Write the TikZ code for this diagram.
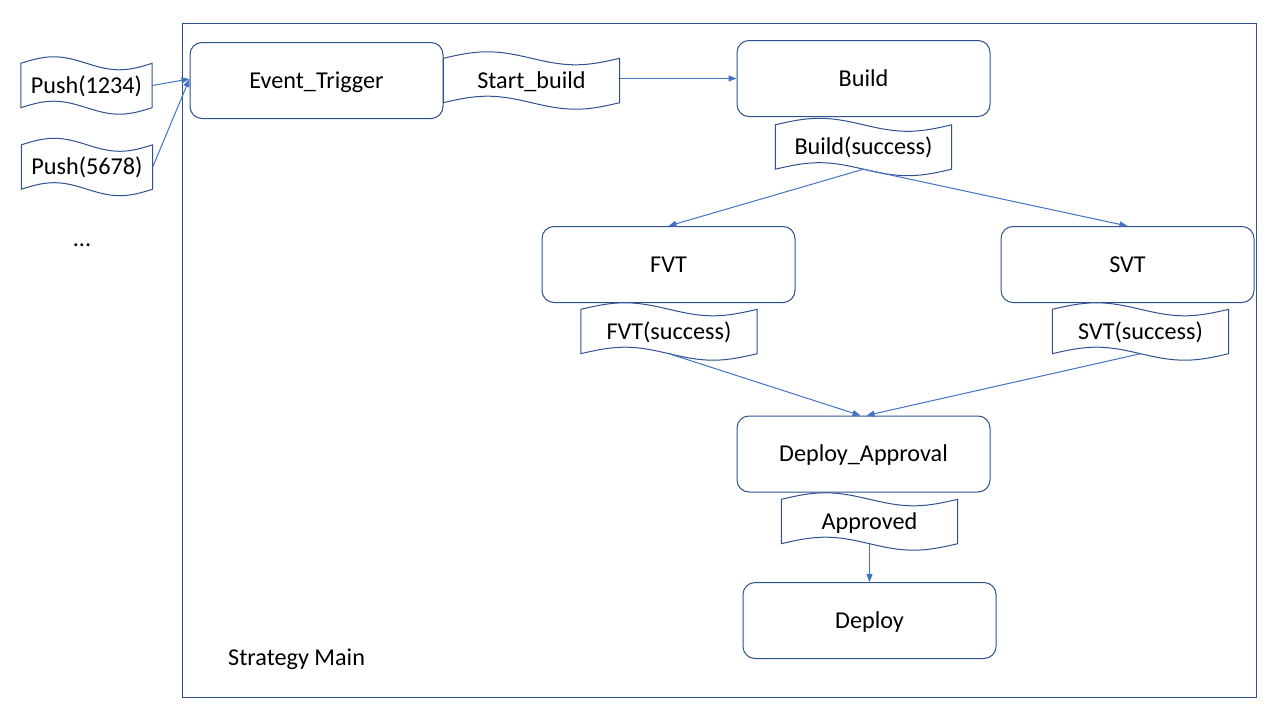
\documentclass[tikz,border=0pt]{standalone}
\usepackage{fontspec}
\setmainfont{Carlito}
\usetikzlibrary{arrows.meta,calc}
\definecolor{outline}{HTML}{2F528F}
\definecolor{link}{HTML}{4472C4}
\tikzset{
  words/.style={text height=18pt, text depth=2.4pt},
  proc/.style={draw=outline, line width=1pt, rounded corners=12pt,
    minimum width=253pt, minimum height=76pt, inner sep=0pt, words},
  tapebox/.style={inner sep=0pt, minimum width=176pt, minimum height=44pt},
  pushbox/.style={tapebox, minimum width=131pt},
  tapeline/.style={draw=outline, line width=1pt, fill=white},
  flow/.style={draw=link, line width=1pt, -{Triangle[length=8pt,width=6pt]}},
}
% wavy punched-tape outline around a named node
\newcommand{\wavebox}[1]{%
  \draw[tapeline] let \p1=(#1.north west), \p2=(#1.south east),
      \n1={(\x2-\x1)/4} in
    (\x1,\y1) sin (\x1+\n1,\y1+6.5pt) cos (\x1+2*\n1,\y1)
      sin (\x1+3*\n1,\y1-6.5pt) cos (\x2,\y1)
    -- (\x2,\y2) sin (\x2-\n1,\y2-6.5pt) cos (\x2-2*\n1,\y2)
      sin (\x2-3*\n1,\y2+6.5pt) cos (\x1,\y2) -- cycle;}
\begin{document}
\begin{tikzpicture}[x=1pt,y=-1pt,font=\fontsize{24.2}{29}\selectfont]
\useasboundingbox[fill=white] (0,0) rectangle (1280,720);

% strategy frame
\draw[outline, line width=1pt] (182,23) rectangle (1256,697);
\node[anchor=base west, inner sep=0pt] (title) at (228,665) {Strategy Main};

% incoming events
\node[pushbox] (p1) at (86.5,85.5) {};
\node[pushbox] (p2) at (87,167) {};
\wavebox{p1}\wavebox{p2}
\node[words] at (p1) {Push(1234)};
\node[words] at (p2) {Push(5678)};
\node[anchor=base, inner sep=0pt] (more) at (82,246) {...};

% processing steps
\node[proc] (evt) at (316.5,80.5) {Event\_Trigger};
\node[proc] (bld) at (863.5,78.5) {Build};
\node[proc] (fvt) at (668.5,264.5) {FVT};
\node[proc] (svt) at (1127.5,264.5) {SVT};
\node[proc] (dap) at (863.5,454) {Deploy\_Approval};
\node[proc] (dep) at (869.5,620.5) {Deploy};

% messages between steps
\node[tapebox] (sb) at (531.5,80.5) {};
\node[tapebox] (bs) at (863.5,147) {};
\node[tapebox] (fs) at (669,331.5) {};
\node[tapebox] (ss) at (1140.5,331.5) {};
\node[tapebox] (ap) at (869.5,521.5) {};
\wavebox{sb}\wavebox{bs}\wavebox{fs}\wavebox{ss}\wavebox{ap}
\node[words] at (sb) {Start\_build};
\node[words] at (bs) {Build(success)};
\node[words] at (fs) {FVT(success)};
\node[words] at (ss) {SVT(success)};
\node[words] at (ap) {Approved};

% connectors
\draw[flow] (p1.east) -- ([yshift=1.5pt]evt.west);
\draw[flow] (p2.east) -- ([yshift=1.5pt]evt.west);
\draw[flow] (sb.east |- bld.west) -- (bld.west);
\draw[flow] (bs.south) -- (fvt.north);
\draw[flow] (bs.south) -- (svt.north);
\draw[flow] (fs.south) -- ([xshift=-3pt]dap.north);
\draw[flow] (ss.south) -- ([xshift=3pt]dap.north);
\draw[flow] (ap.south) -- (dep.north);
\end{tikzpicture}
\end{document}
